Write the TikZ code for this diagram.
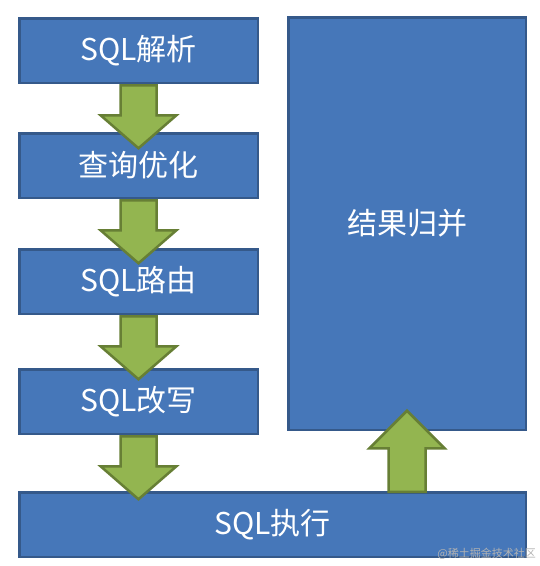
\documentclass[tikz,border=0pt]{standalone}
\usepackage{fontspec}
\setmainfont{Noto Sans CJK SC}
\usepackage{xcolor}
\usepackage{tikz}
\usetikzlibrary{shapes,arrows,positioning,calc}
\definecolor{boxBlue}{HTML}{4677B9}
\definecolor{boxEdge}{HTML}{35598A}
\definecolor{arrowGreen}{HTML}{93B550}
\definecolor{arrowEdge}{HTML}{677F35}
\tikzset{
  stageBox/.style={
    rectangle,
    draw=boxEdge,
    fill=boxBlue,
    line width=2.5pt,
    minimum width=238.5pt,
    minimum height=64.5pt,
    text=white,
    font=\fontsize{30}{36}\selectfont
  },
  mergeBox/.style={
    stageBox,
    minimum width=237.5pt,
    minimum height=412.5pt
  },
  flowArrow/.style={
    single arrow,
    draw=arrowEdge,
    fill=arrowGreen,
    line width=2.5pt,
    inner xsep=0pt,
    minimum width=0pt,
    anchor=tail
  },
  downArrow/.style={
    flowArrow,
    rotate=-90,
    inner ysep=16.75pt,
    single arrow head extend=19.75pt,
    minimum height=63pt,
    single arrow tip angle=98
  },
  upArrow/.style={
    flowArrow,
    rotate=90,
    inner ysep=17.25pt,
    single arrow head extend=19pt,
    minimum height=81pt,
    single arrow tip angle=90
  }
}
\begin{document}
\begin{tikzpicture}[x=1pt,y=-1pt]
    \useasboundingbox (0,0) rectangle (540,566);

    % left column
    \node[stageBox] (parse) at (138.5,50.5) {SQL解析};
    \node[stageBox, below=48pt of parse] (optimize) {查询优化};
    \node[stageBox, below=49pt of optimize] (route) {SQL路由};
    \node[stageBox, below=53pt of route] (rewrite) {SQL改写};
    \node[stageBox, minimum width=506.5pt, anchor=north west] (execute) at ($(rewrite.south west)+(0,56)$) {SQL执行};
    \node[mergeBox, anchor=south east] (merge) at ($(execute.north east)+(0,-60)$) {结果归并};

    % block arrows
    \node[downArrow] (parseArrow) at (parse.south) {};
    \node[downArrow] (optimizeArrow) at (optimize.south) {};
    \node[downArrow] (routeArrow) at (route.south) {};
    \node[downArrow] (rewriteArrow) at (rewrite.south) {};
    \node[upArrow] (executeArrow) at ($(merge.south |- execute.north)+(0,2)$) {};

    \node[anchor=east, inner sep=0pt, text=black!30, font=\fontsize{11}{13}\selectfont] (watermark) at (536,554) {@稀土掘金技术社区};
\end{tikzpicture}
\end{document}
